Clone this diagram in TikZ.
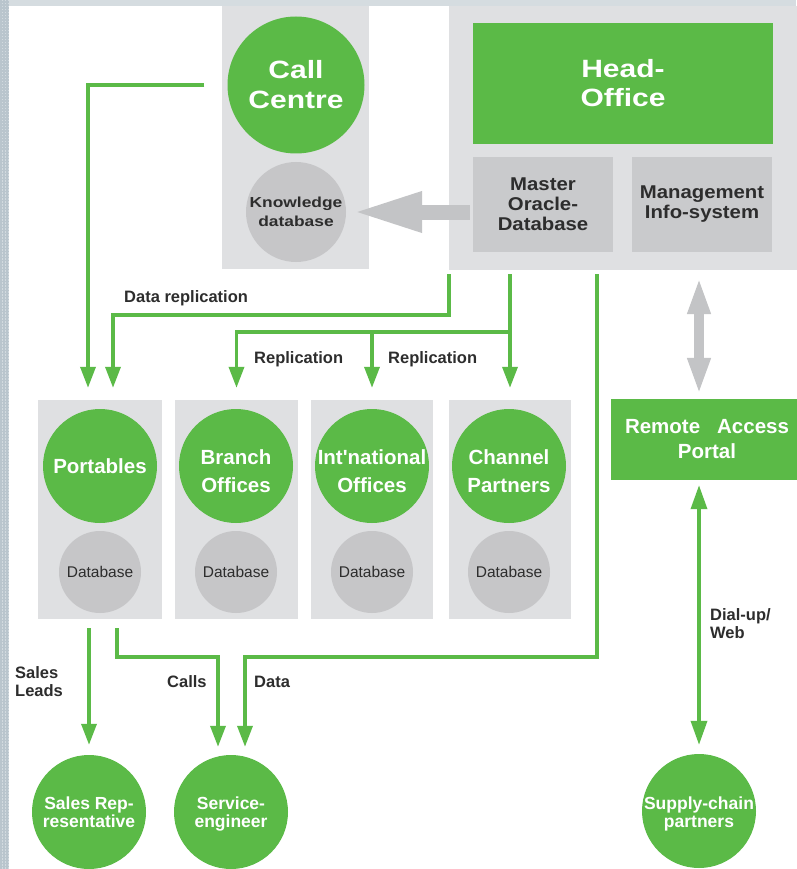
\documentclass[tikz,border=0pt]{standalone}
\usepackage{fontspec}
\setmainfont{Liberation Sans}
\newfontfamily\wfont[FakeStretch=1.2]{Liberation Sans}
\newfontfamily\mfont[FakeStretch=1.1]{Liberation Sans}
\usetikzlibrary{arrows.meta}
\definecolor{gr}{RGB}{91,186,71}
\definecolor{panel}{RGB}{223,224,226}
\definecolor{dbgrey}{RGB}{198,198,200}
\definecolor{boxgrey}{RGB}{201,202,204}
\definecolor{arrgrey}{RGB}{195,196,198}
\definecolor{txt}{RGB}{45,45,45}
\definecolor{stripL}{RGB}{185,197,205}
\definecolor{stripLL}{RGB}{210,218,223}
\definecolor{stripT}{RGB}{213,220,224}
\begin{document}
\begin{tikzpicture}[x=1pt,y=-1pt,
  panelbox/.style={rectangle, fill=panel, draw=none, inner sep=0pt},
  gcirc/.style={circle, fill=gr, draw=none, inner sep=0pt, minimum size=114pt},
  dbcirc/.style={circle, fill=dbgrey, draw=none, inner sep=0pt, minimum size=82pt},
  grect/.style={rectangle, fill=gr, draw=none, inner sep=0pt},
  greyrect/.style={rectangle, fill=boxgrey, draw=none, inner sep=0pt},
  bigtext/.style={text=white, font=\wfont\bfseries\fontsize{25}{30}\selectfont, align=center, inner sep=0pt},
  ctext/.style={text=white, font=\bfseries\fontsize{20.5}{28}\selectfont, align=center, inner sep=0pt},
  btext/.style={text=white, font=\bfseries\fontsize{17.5}{18}\selectfont, align=center, inner sep=0pt},
  ktext/.style={text=txt, font=\wfont\bfseries\fontsize{14.5}{19}\selectfont, align=center, inner sep=0pt},
  mtext/.style={text=txt, font=\mfont\bfseries\fontsize{18.5}{20}\selectfont, align=center, inner sep=0pt},
  dbtext/.style={text=txt, font=\fontsize{15.5}{18}\selectfont, inner sep=0pt},
  lbl/.style={text=txt, font=\bfseries\fontsize{16.5}{18}\selectfont, align=left, inner sep=0pt},
  gline/.style={draw=gr, line width=3.5pt},
  garrow/.style={gline, -{Triangle[length=21pt,width=15pt]}},
  gdbl/.style={gline, {Triangle[length=24pt,width=16pt]}-{Triangle[length=24pt,width=16pt]}},
]
\useasboundingbox (0,0) rectangle (796,869);
\fill[white] (0,0) rectangle (796,869);
\fill[stripT] (0,0) rectangle (796,6);
\fill[stripL] (0,0) rectangle (9,869);
\foreach \xx in {2,5,8} {\draw[stripLL, line width=0.8pt, dash pattern=on 1.5pt off 1.5pt] (\xx,0) -- (\xx,869);}

% top panels
\node[panelbox, minimum width=147pt, minimum height=263pt] (ccpanel) at (295.5,137.5) {};
\node[panelbox, minimum width=361pt, minimum height=264pt] (hopanel) at (629.5,138) {};
\node[gcirc, minimum size=137pt, label={[bigtext]center:Call\\Centre}] (cc) at (296,85) {};
\node[circle, fill=dbgrey, draw=none, inner sep=0pt, minimum size=100pt,
      label={[ktext]center:Knowledge\\database}] (kdb) at (296,212) {};
\node[grect, minimum width=300pt, minimum height=121pt, bigtext] (ho) at (623,83.5) {Head-\\[-1pt]Office};
\node[greyrect, minimum width=140pt, minimum height=95pt, mtext] (mdb) at (543,204.5) {Master\\Oracle-\\Database};
\node[greyrect, minimum width=140pt, minimum height=95pt, mtext] (mis) at (702,204.5) {Management\\Info-system};

% bottom panels
\node[panelbox, minimum width=124pt, minimum height=219pt] (portpanel) at (100,509.5) {};
\node[panelbox, minimum width=123pt, minimum height=219pt] (branchpanel) at (236.5,509.5) {};
\node[panelbox, minimum width=122pt, minimum height=219pt] (intlpanel) at (372,509.5) {};
\node[panelbox, minimum width=122pt, minimum height=219pt] (chanpanel) at (510,509.5) {};

\node[gcirc, label={[ctext]center:Portables}] (port) at (100,466) {};
\node[gcirc, label={[ctext,yshift=-5pt]center:Branch\\Offices}] (branch) at (236,466) {};
\node[gcirc, label={[ctext,yshift=-5pt]center:Int\textquotesingle national\\Offices}] (intl) at (372,466) {};
\node[gcirc, label={[ctext,yshift=-5pt]center:Channel\\Partners}] (chan) at (509,466) {};

\node[dbcirc, label={[dbtext]center:Database}] (portdb) at (100,572) {};
\node[dbcirc, label={[dbtext]center:Database}] (branchdb) at (236,572) {};
\node[dbcirc, label={[dbtext]center:Database}] (intldb) at (372,572) {};
\node[dbcirc, label={[dbtext]center:Database}] (chandb) at (509,572) {};

% remote access portal
\node[grect, minimum width=192pt, minimum height=81pt, ctext, font=\bfseries\fontsize{20.5}{25}\selectfont] (rap) at (707,439.5) {Remote\hspace{17pt}Access\\Portal};

% bottom circles
\node[gcirc, label={[btext]center:Sales Rep-\\resentative}] (salesrep) at (89,812) {};
\node[gcirc, label={[btext,yshift=-2pt]center:Service-\\engineer}] (service) at (231,812) {};
\node[gcirc, label={[btext,yshift=-3pt]center:Supply-chain\\partners}] (supply) at (699,811) {};

% labels
\node[lbl, anchor=base west] (tdr) at (124,302) {Data replication};
\node[lbl, anchor=base west] (tr1) at (254,363) {Replication};
\node[lbl, anchor=base west] (tr2) at (388,363) {Replication};
\node[lbl, anchor=west] (tsl) at (15,682) {Sales\\Leads};
\node[lbl, anchor=base west] (tcalls) at (167,687) {Calls};
\node[lbl, anchor=base west] (tdata) at (254,687) {Data};
\node[lbl, anchor=west] (tdial) at (710,624) {Dial-up/\\Web};

% grey arrows
\draw[draw=arrgrey, line width=15pt, -{Triangle[length=70pt,width=37pt]}, shorten <=3pt, shorten >=6pt]
  (mdb.west |- kdb.east) -- (kdb.east);
\draw[draw=arrgrey, line width=10pt, {Triangle[length=37pt,width=21pt]}-{Triangle[length=37pt,width=21pt]}, shorten <=7pt, shorten >=4pt]
  (hopanel.south -| supply.north) -- (rap.north -| supply.north);

% green connectors
\coordinate (rj) at (509,332);
\coordinate (dsrc) at (597,270);
\coordinate (dmid) at (400,657);
\draw[garrow, shorten <=23pt, shorten >=12pt] (cc.west) -| ([xshift=-12pt]portpanel.north);
\draw[garrow, shorten <=4pt, shorten >=12pt] (hopanel.south west) -- ++(0,45) -| ([xshift=13pt]portpanel.north);
\draw[garrow, shorten <=4pt, shorten >=12pt] (hopanel.south -| chanpanel.north) -- (chanpanel.north);
\draw[garrow, shorten >=12pt] (rj -| chanpanel.north) -| (branchpanel.north);
\draw[garrow, shorten >=12pt] (rj -| intlpanel.north) -- (intlpanel.north);
\draw[garrow, shorten <=4pt, shorten >=8pt] (dsrc) |- (dmid) -| ([xshift=14pt]service.north);
\draw[garrow, shorten <=9pt, shorten >=8pt] ([xshift=17pt]portpanel.south) -- ++(0,38) -| ([xshift=-13pt]service.north);
\draw[garrow, shorten <=9pt, shorten >=10pt] (salesrep.north |- portpanel.south) -- (salesrep.north);
\draw[gdbl, shorten <=5pt, shorten >=9pt] (rap.south -| supply.north) -- (supply.north);
\end{tikzpicture}
\end{document}
